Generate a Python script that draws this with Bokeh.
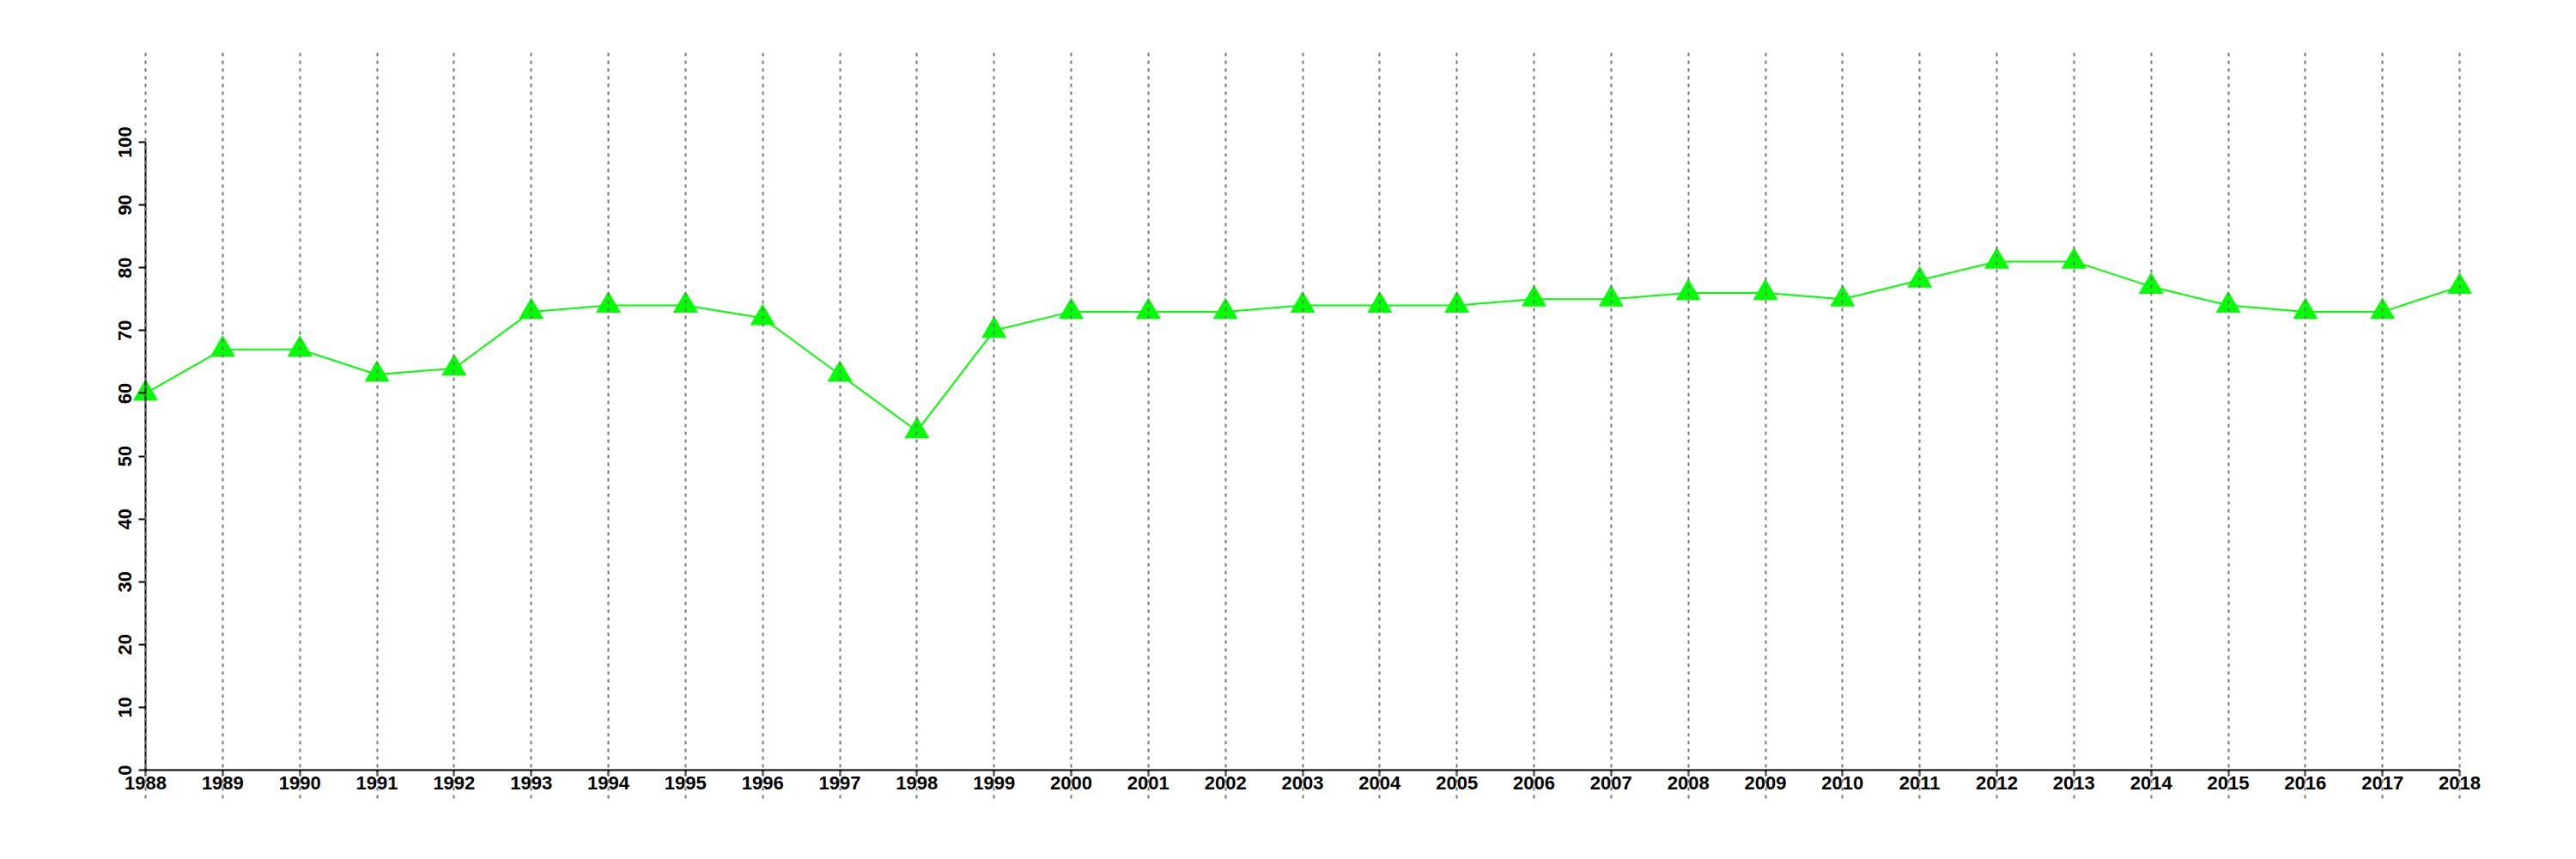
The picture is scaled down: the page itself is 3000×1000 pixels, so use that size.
from bokeh.plotting import figure
from bokeh.models import FixedTicker, Range1d, ColumnDataSource
from bokeh.embed import file_html
from bokeh.resources import INLINE

years = list(range(1988, 2019))
values = [60, 67, 67, 63, 64, 73, 74, 74, 72, 63, 54, 70, 73, 73, 73, 74, 74, 74,
          75, 75, 76, 76, 75, 78, 81, 81, 77, 74, 73, 73, 77]
y_ticks = [0, 10, 20, 30, 40, 50, 60, 70, 80, 90, 100]

src = ColumnDataSource(dict(year=years, value=values))

p = figure(width=2984, height=984, output_backend="svg", toolbar_location=None,
           x_range=Range1d(1987.254, 2018.423), y_range=Range1d(-4.51, 114.23),
           min_border_left=102, min_border_right=82, min_border_top=61, min_border_bottom=55)
p.outline_line_color = None
p.background_fill_color = "white"

p.line("year", "value", source=src, line_color="#00FF00", line_width=2)
p.scatter("year", "value", source=src, marker="triangle", size=29,
          fill_color="#00FF00", line_color=None)

# axes
p.xaxis.ticker = FixedTicker(ticks=years)
p.yaxis.ticker = FixedTicker(ticks=y_ticks)
p.xaxis.fixed_location = 0
p.yaxis.fixed_location = 1988
p.xaxis.bounds = (1988, 2018)
p.yaxis.bounds = (0, 100)
for ax in (p.xaxis, p.yaxis):
    ax.axis_line_color = "black"
    ax.axis_line_width = 2
    ax.major_tick_line_color = "black"
    ax.major_tick_line_width = 2
    ax.major_tick_in = 0
    ax.minor_tick_line_color = None
    ax.major_label_text_font = "Liberation Sans"
    ax.major_label_text_font_style = "bold"
    ax.major_label_text_font_size = "22px"
    ax.major_label_text_color = "black"
p.xaxis.major_tick_out = 7
p.yaxis.major_tick_out = 8
p.xaxis.major_label_standoff = 0
p.yaxis.major_label_standoff = 9
p.yaxis.major_label_orientation = "parallel"

# dotted vertical grid lines at each year, drawn above the data
p.ygrid.grid_line_color = None
p.xgrid.ticker = FixedTicker(ticks=years)
p.xgrid.grid_line_color = "#777777"
p.xgrid.grid_line_width = 2
p.xgrid.grid_line_dash = "4 5"
p.xgrid.level = "overlay"

open("out.html", "w").write(file_html(p, INLINE))
